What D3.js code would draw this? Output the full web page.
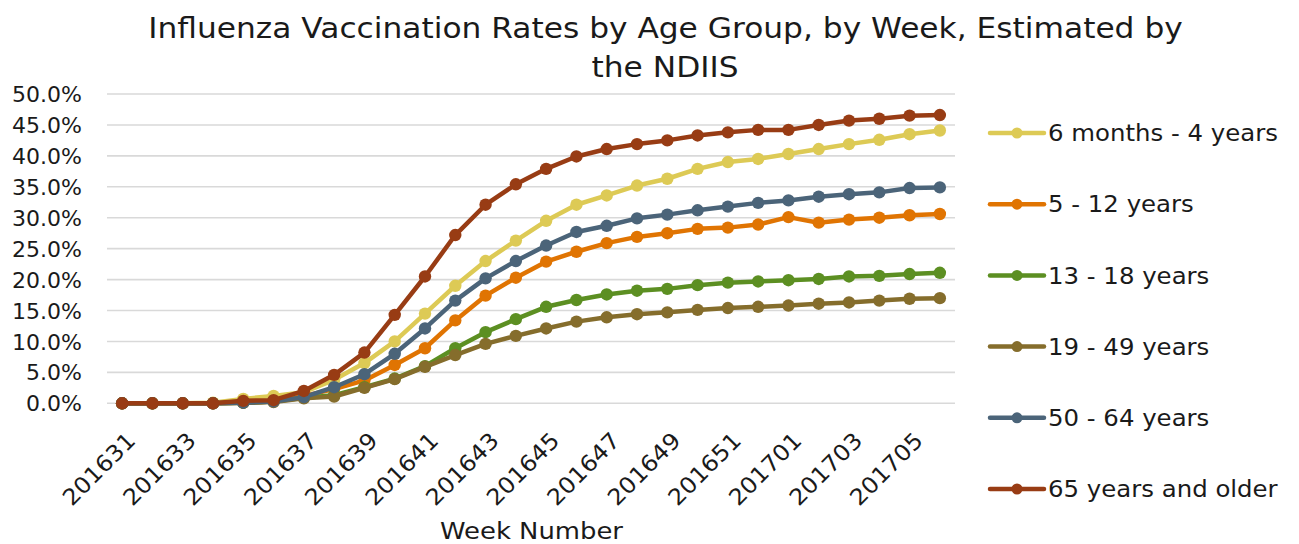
<!DOCTYPE html>
<html>
<head>
<meta charset="utf-8">
<script src="https://cdn.jsdelivr.net/npm/d3@7"></script>
<style>
  html, body { margin: 0; padding: 0; background: #fff; }
  svg { display: block; }
  text { font-family: "DejaVu Sans", sans-serif; fill: #1a1a1a; }
</style>
</head>
<body>
<svg id="chart" width="1299" height="544"></svg>
<script>
const weeks = ["201631","201632","201633","201634","201635","201636","201637","201638","201639","201640",
  "201641","201642","201643","201644","201645","201646","201647","201648","201649","201650",
  "201651","201652","201701","201702","201703","201704","201705","201706"];
const tickLabels = ["201631","201633","201635","201637","201639","201641","201643","201645","201647","201649","201651","201701","201703","201705"];
const seriesNames = ["6 months - 4 years","5 - 12 years","13 - 18 years","19 - 49 years","50 - 64 years","65 years and older"];
const seriesColors = ["#DDCA55","#E07402","#5C8F22","#856D2C","#4B6479","#983C14"];

const age6m4y = [0,0,0,0.1,0.7,1.2,1.8,3.8,6.5,10.0,14.5,19.0,23.0,26.3,29.5,32.1,33.6,35.2,36.3,37.9,39.0,39.5,40.3,41.1,41.9,42.6,43.5,44.1];
const age5to12 = [0,0,0,0,0.1,0.3,1.2,2.3,3.7,6.2,8.9,13.4,17.4,20.3,22.9,24.5,25.9,26.9,27.5,28.2,28.4,28.9,30.1,29.2,29.7,30.0,30.4,30.6];
const age13to18 = [0,0,0,0,0.1,0.3,0.9,1.3,2.6,4.0,6.0,8.9,11.5,13.6,15.6,16.7,17.6,18.2,18.5,19.1,19.5,19.7,19.9,20.1,20.5,20.6,20.9,21.1];
const age19to49 = [0,0,0,0,0.1,0.2,0.8,1.1,2.5,3.9,5.9,7.8,9.6,10.9,12.1,13.2,13.9,14.4,14.7,15.1,15.4,15.6,15.8,16.1,16.3,16.6,16.9,17.0];
const age50to64 = [0,0,0,0,0.1,0.3,1.0,2.6,4.7,8.0,12.1,16.6,20.2,23.0,25.5,27.7,28.7,29.9,30.5,31.2,31.8,32.4,32.8,33.4,33.8,34.1,34.8,34.9];
const age65plus = [0,0,0,0,0.4,0.5,2.0,4.6,8.2,14.3,20.5,27.2,32.1,35.4,37.9,39.9,41.1,41.9,42.5,43.3,43.8,44.2,44.2,45.0,45.7,46.0,46.5,46.6];
const yTicks = [0,5,10,15,20,25,30,35,40,45,50];

const seriesValues = [age6m4y, age5to12, age13to18, age19to49, age50to64, age65plus];

const svg = d3.select("#chart");
const plotLeft = 107, plotRight = 955, plotTop = 94, plotBottom = 403.3;

const x = d3.scaleBand().domain(weeks).range([plotLeft, plotRight]).padding(0);
const xc = d => x(d) + x.bandwidth() / 2;
const y = d3.scaleLinear().domain([0, 50]).range([plotBottom, plotTop]);

// horizontal stretch factor so a reference string reaches a measured width
function stretchFor(node, target) {
  const w = node.getComputedTextLength();
  return w > 0 ? target / w : 1;
}

// Title
const title = svg.append("g").attr("font-size", 29);
const t1 = title.append("text").attr("text-anchor", "middle")
  .text("Influenza Vaccination Rates by Age Group, by Week, Estimated by");
const t2 = title.append("text").attr("text-anchor", "middle").text("the NDIIS");
const ts = stretchFor(t1.node(), 1035);
t1.attr("transform", `translate(665.5,38) scale(${ts},1)`);
t2.attr("transform", `translate(665,77) scale(${ts},1)`);

// Gridlines
svg.append("g").selectAll("line").data(yTicks).join("line")
  .attr("x1", plotLeft).attr("x2", plotRight)
  .attr("y1", d => y(d)).attr("y2", d => y(d))
  .attr("stroke", "#d9d9d9").attr("stroke-width", 1.6);

// Y axis
const yAxis = svg.append("g").attr("transform", `translate(${plotLeft - 25},0)`)
  .call(d3.axisLeft(y).tickValues(yTicks).tickSize(0).tickPadding(0).tickFormat(d => d.toFixed(1) + "%"));
yAxis.select(".domain").remove();
const yTexts = yAxis.selectAll("text").attr("font-size", 21).attr("font-family", "DejaVu Sans")
  .attr("fill", "#1a1a1a").attr("dy", "0.36em").attr("x", 0);
const ys = stretchFor(yTexts.nodes()[yTexts.nodes().length - 1], 70);
yTexts.attr("transform", `scale(${ys},1)`);

// X axis
const xAxis = svg.append("g").attr("transform", `translate(0,${plotBottom})`)
  .call(d3.axisBottom(x).tickValues(tickLabels).tickSize(0).tickPadding(0));
xAxis.select(".domain").remove();
const xTexts = xAxis.selectAll(".tick text")
  .attr("font-size", 22.5).attr("font-family", "DejaVu Sans").attr("fill", "#1a1a1a")
  .attr("text-anchor", "end")
  .attr("y", 0).attr("dy", "0.36em");
const xs = stretchFor(xTexts.nodes()[0], 92);
xTexts.attr("transform", `translate(9,33) rotate(-45) scale(${xs},1)`);

const xTitle = svg.append("text").attr("text-anchor", "middle")
  .attr("font-size", 22.5).text("Week Number");
xTitle.attr("transform", `translate(531.5,539) scale(${stretchFor(xTitle.node(), 183)},1)`);

// Series
const line = d3.line().x((d, i) => xc(weeks[i])).y(d => y(d));
seriesValues.forEach((vals, si) => {
  const g = svg.append("g");
  g.append("path").datum(vals).attr("d", line)
    .attr("fill", "none").attr("stroke", seriesColors[si]).attr("stroke-width", 4.5)
    .attr("stroke-linejoin", "round").attr("stroke-linecap", "round");
  g.selectAll("circle").data(vals).join("circle")
    .attr("cx", (d, i) => xc(weeks[i])).attr("cy", d => y(d)).attr("r", 6.2)
    .attr("fill", seriesColors[si]);
});

// Legend
const legendY = d3.scalePoint().domain(seriesNames).range([133, 489]);
const lg = svg.append("g");
const legendTexts = [];
seriesNames.forEach((name, si) => {
  const ly = legendY(name);
  lg.append("line").attr("x1", 990).attr("x2", 1044).attr("y1", ly).attr("y2", ly)
    .attr("stroke", seriesColors[si]).attr("stroke-width", 4.5).attr("stroke-linecap", "round");
  lg.append("circle").attr("cx", 1017).attr("cy", ly).attr("r", 5.5).attr("fill", seriesColors[si]);
  legendTexts.push(lg.append("text").attr("dy", "0.36em").attr("font-size", 22.5).text(name).datum(ly));
});
const ls = stretchFor(legendTexts[0].node(), 230);
legendTexts.forEach(t => t.attr("transform", `translate(1048,${t.datum()}) scale(${ls},1)`));
</script>
</body>
</html>
